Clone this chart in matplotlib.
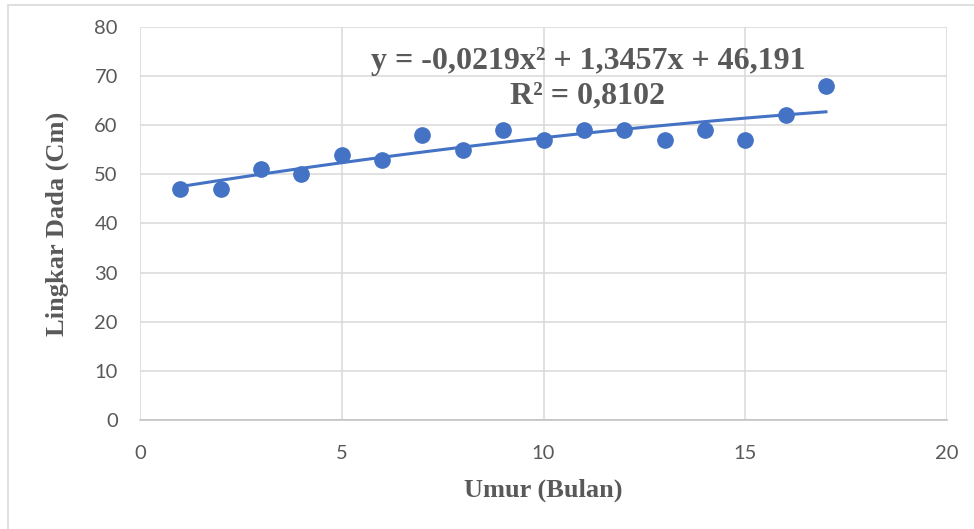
import numpy as np
import matplotlib
matplotlib.use("Agg")
import matplotlib.pyplot as plt
from matplotlib.patches import Rectangle

# data
umur = [1, 2, 3, 4, 5, 6, 7, 8, 9, 10, 11, 12, 13, 14, 15, 16, 17]
lingkar_dada = [47, 47, 51, 50, 54, 53, 58, 55, 59, 57, 59, 59, 57, 59, 57, 62, 68]
# trendline coefficients as printed on the chart (a*x^2 + b*x + c)
trend_coef = [-0.0219, 1.3457, 46.191]
x_ticks = [0, 5, 10, 15, 20]
y_ticks = [0, 10, 20, 30, 40, 50, 60, 70, 80]

blue = "#4472C4"
grey_text = "#595959"
grid_col = "#D9D9D9"

fig = plt.figure(figsize=(9.74, 5.29), dpi=100)
ax = fig.add_axes([140 / 974, 1 - 420 / 529, (947 - 140) / 974, (420 - 27) / 529])

# outer chart border
fig.patches.append(Rectangle((8 / 974, -0.1), 1.2, 1 - 5 / 529 + 0.1,
                             transform=fig.transFigure, fill=False,
                             edgecolor="#D9D9D9", lw=1.2))

xs = np.linspace(umur[0], umur[-1], 100)
ax.plot(xs, np.polyval(trend_coef, xs), color=blue, lw=2.2, zorder=2)
ax.plot(umur, lingkar_dada, "o", color=blue, ms=11, zorder=3)

ax.set_xlim(0, 20)
ax.set_ylim(0, 80)
ax.set_xticks(x_ticks)
ax.set_yticks(y_ticks)
ax.grid(True, color=grid_col, lw=1.1, zorder=0)
ax.set_axisbelow(True)
for s in ["top", "right", "left"]:
    ax.spines[s].set_visible(False)
ax.spines["bottom"].set_color("#BFBFBF")
ax.spines["bottom"].set_linewidth(1.1)
ax.tick_params(length=0, labelsize=14.5, labelcolor=grey_text)
ax.tick_params(axis="x", pad=18)
ax.tick_params(axis="y", pad=16)
for lab in ax.get_xticklabels() + ax.get_yticklabels():
    lab.set_family("Lato")

ax.set_xlabel("Umur (Bulan)", family="Liberation Serif", fontweight="bold",
              fontsize=19, color=grey_text, labelpad=12)
ax.set_ylabel("Lingkar Dada (Cm)", family="Liberation Serif", fontweight="bold",
              fontsize=19, color=grey_text, labelpad=18)

fig.text(588 / 974, 1 - 61 / 529, "y = -0,0219x² + 1,3457x + 46,191",
         family="Liberation Serif", fontweight="bold", fontsize=23,
         color=grey_text, ha="center", va="center")
fig.text(588 / 974, 1 - 96 / 529, "R² = 0,8102",
         family="Liberation Serif", fontweight="bold", fontsize=23,
         color=grey_text, ha="center", va="center")

fig.savefig("out.png", dpi=100)
